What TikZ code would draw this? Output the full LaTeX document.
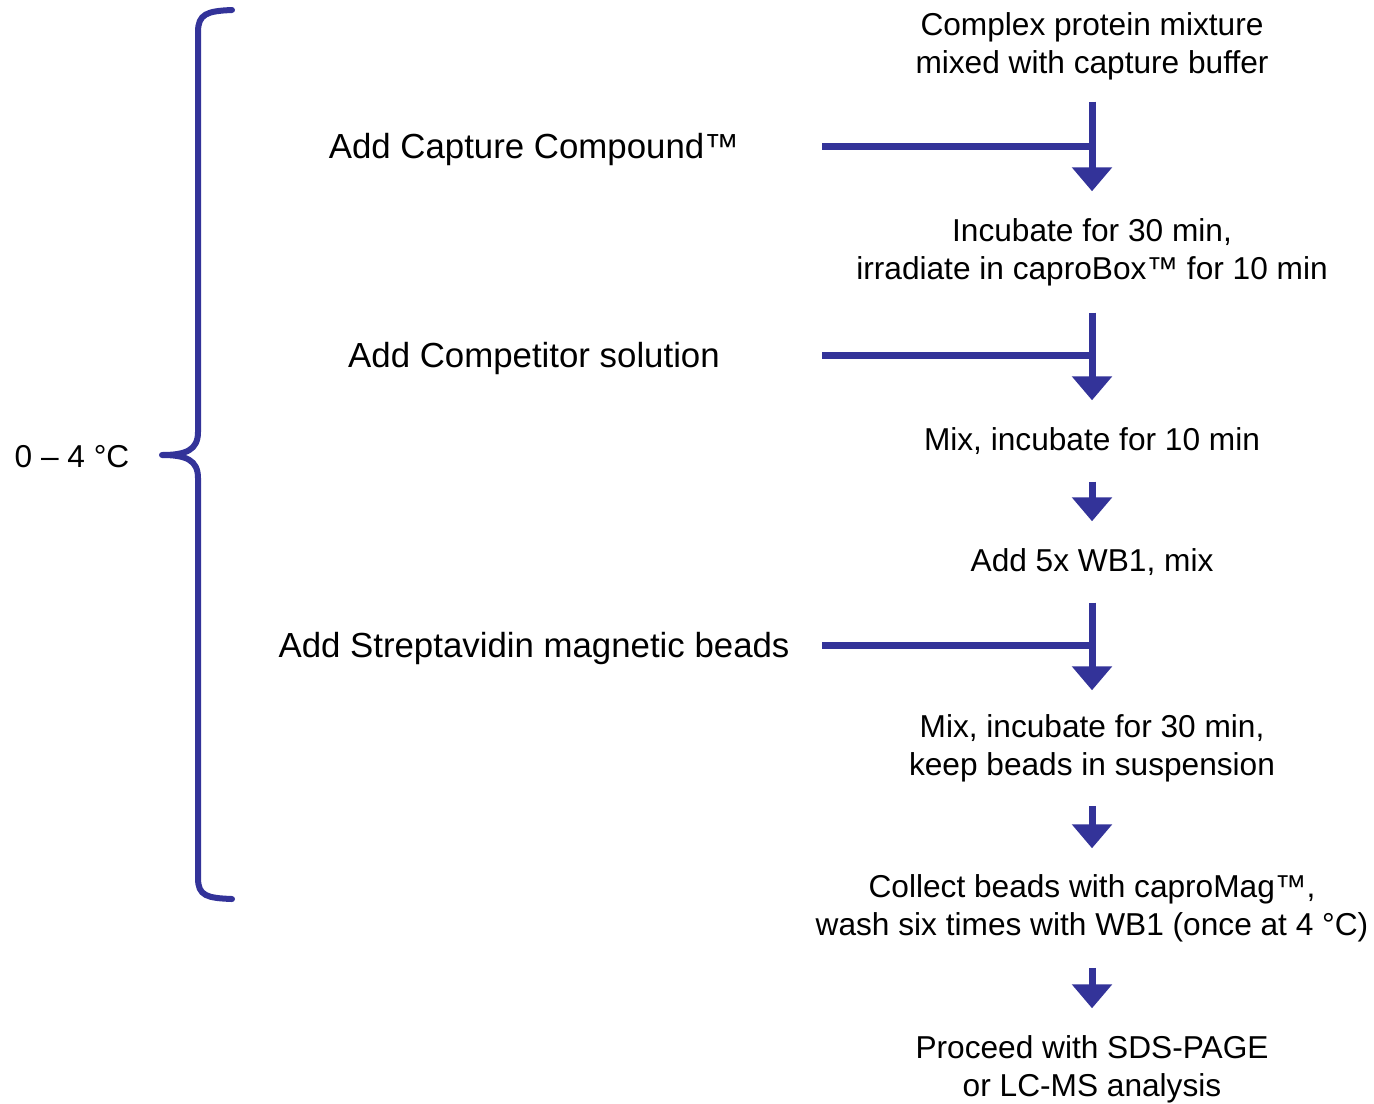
\documentclass[tikz,border=0pt]{standalone}
\usepackage{fontspec}
\setmainfont{Liberation Sans}
\usetikzlibrary{arrows.meta}
\definecolor{flowblue}{HTML}{333399}
\begin{document}
\begin{tikzpicture}[x=0.01cm,y=-0.01cm,
  every node/.style={font=\fontsize{9pt}{10.8pt}\selectfont, text=black},
  stepnode/.style={align=center, inner sep=0pt, minimum height=#1},
  label/.style={inner sep=0pt, font=\fontsize{9.9pt}{11.9pt}\selectfont},
  flow/.style={draw=flowblue, line width=0.07cm},
  arr/.style={flow, -{Triangle[width=0.39cm,length=0.24cm]}},
  bracestyle/.style={draw=flowblue, line width=0.06cm, line cap=round, line join=round}]
\useasboundingbox (0,0) rectangle (1374,1103);

% steps
\node[stepnode=1.10cm] (n1) at (1092,46) {Complex protein mixture\\mixed with capture buffer};
\node[stepnode=1.20cm] (n2) at (1092,252) {Incubate for 30 min,\\irradiate in caproBox™ for 10 min};
\node[stepnode=0.80cm] (n3) at (1092,441) {Mix, incubate for 10 min};
\node[stepnode=0.80cm] (n4) at (1092,562) {Add 5x WB1, mix};
\node[stepnode=1.14cm] (n5) at (1092,748) {Mix, incubate for 30 min,\\keep beads in suspension};
\node[stepnode=1.18cm] (n6) at (1092,908) {Collect beads with caproMag™,\\wash six times with WB1 (once at 4 °C)};
\node[stepnode=1.20cm] (n7) at (1092,1069) {Proceed with SDS-PAGE\\or LC-MS analysis};

% side labels
\node[label] (l1) at (534,149) {Add Capture Compound™};
\node[label] (l2) at (534,358) {Add Competitor solution};
\node[label] (l3) at (534,648) {Add Streptavidin magnetic beads};
\node[inner sep=0pt] (temp) at (72,457) {0 – 4 °C};

% vertical arrows
\draw[arr] (n1) -- (n2);
\draw[arr] (n2) -- (n3);
\draw[arr] (n3) -- (n4);
\draw[arr] (n4) -- (n5);
\draw[arr] (n5) -- (n6);
\draw[arr] (n6) -- (n7);

% branch lines
\coordinate (h1) at (822,146);
\coordinate (h2) at (822,355);
\coordinate (h3) at (822,645);
\draw[flow] (h1) -- (h1 -| n1);
\draw[flow] (h2) -- (h2 -| n2);
\draw[flow] (h3) -- (h3 -| n4);

% brace
\coordinate (btop) at (232,10);
\coordinate (btip) at (162,455);
\coordinate (bbot) at (232,899);
\draw[bracestyle] (btop) .. controls (207,11) and (198,14) .. (198,32)
  -- (198,432) .. controls (198,450) and (186,455) .. (btip)
  .. controls (186,455) and (198,460) .. (198,478)
  -- (198,878) .. controls (198,896) and (207,898) .. (bbot);
\end{tikzpicture}
\end{document}
